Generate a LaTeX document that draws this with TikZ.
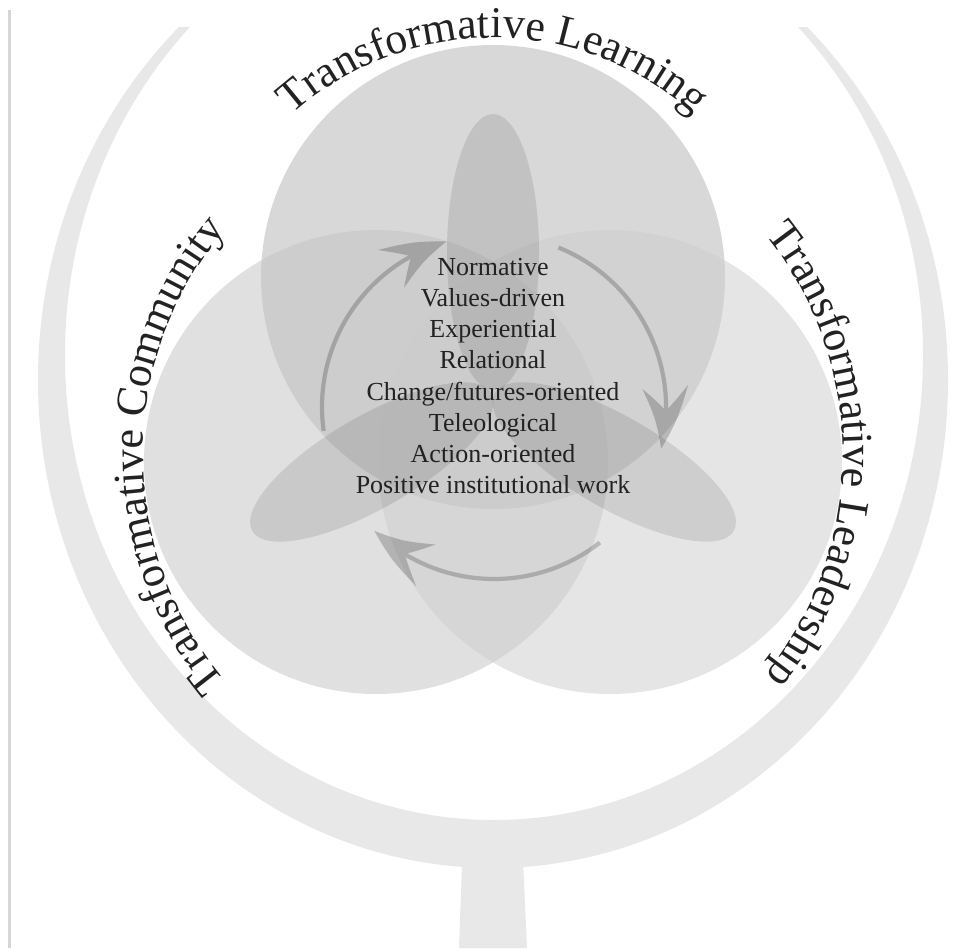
\documentclass[tikz,border=0pt]{standalone}
\usepackage{fontspec}
\setmainfont{Liberation Serif}
\usetikzlibrary{arrows.meta,bending,decorations.text}
\definecolor{goblet}{HTML}{E8E8E8}
\definecolor{rulegray}{HTML}{D6D6D6}
\definecolor{ink}{HTML}{222222}
\newcommand\rimfont{\fontsize{25}{30}\selectfont\color{ink}}

\begin{document}
\begin{tikzpicture}[x=0.02cm,y=0.02cm,
    disc/.style={fill=#1,fill opacity=0.5},
    petal/.style={fill=black,fill opacity=0.1},
    swoosh/.style={draw=black,line width=2.4pt,
      -{Stealth[length=36pt,width=26pt,inset=14pt,bend]}},
    rimtext/.style={decorate,decoration={text along path,text align=center,text={|\rimfont|#1}}}]
  \useasboundingbox (0,0) rectangle (963,948);
  \draw[rulegray,line width=1.7pt] (9.5,0) -- (9.5,938);
  % the cup and its stem
  \begin{scope}
    \clip (0,0) rectangle (963,920);
    \fill[goblet,even odd rule] (493,568) ellipse[x radius=455,y radius=488]
      (494,593) ellipse[x radius=429,y radius=465];
  \end{scope}
  \fill[goblet] (463,110) -- (459,0) -- (527,0) -- (522,110) -- cycle;
  % three circles
  \fill[disc=black!30] (493,671) circle[radius=232];
  \fill[disc=black!24] (376,486) circle[radius=232];
  \fill[disc=black!20] (610,486) circle[radius=232];
  \foreach \a in {90,210,330}
    \fill[petal,rotate around={\a:(493,556)}] (633,556) ellipse[x radius=138,y radius=46];
  \begin{scope}[transparency group,opacity=0.2]
    \foreach \s in {0,120,240}
      \draw[swoosh] (494,541) ++(188-\s:172) arc[start angle=188-\s,end angle=106-\s,radius=172];
  \end{scope}
  \node[text=ink,align=center,inner sep=0,font=\fontsize{14.8}{17.8}\selectfont] (traits) at (493,572)
    {Normative\\Values-driven\\Experiential\\Relational\\Change/futures-oriented\\Teleological\\Action-oriented\\Positive institutional work};
  \path[rimtext={Transformative Learning}] (493,609) ++(150:301) arc[start angle=150,end angle=30,radius=301];
  \path[rimtext={Transformative Community}] (493,493) ++(240:350) arc[start angle=240,end angle=120,radius=350];
  \path[rimtext={Transformative Leadership}] (493,493) ++(60:350) arc[start angle=60,end angle=-60,radius=350];
\end{tikzpicture}
\end{document}
